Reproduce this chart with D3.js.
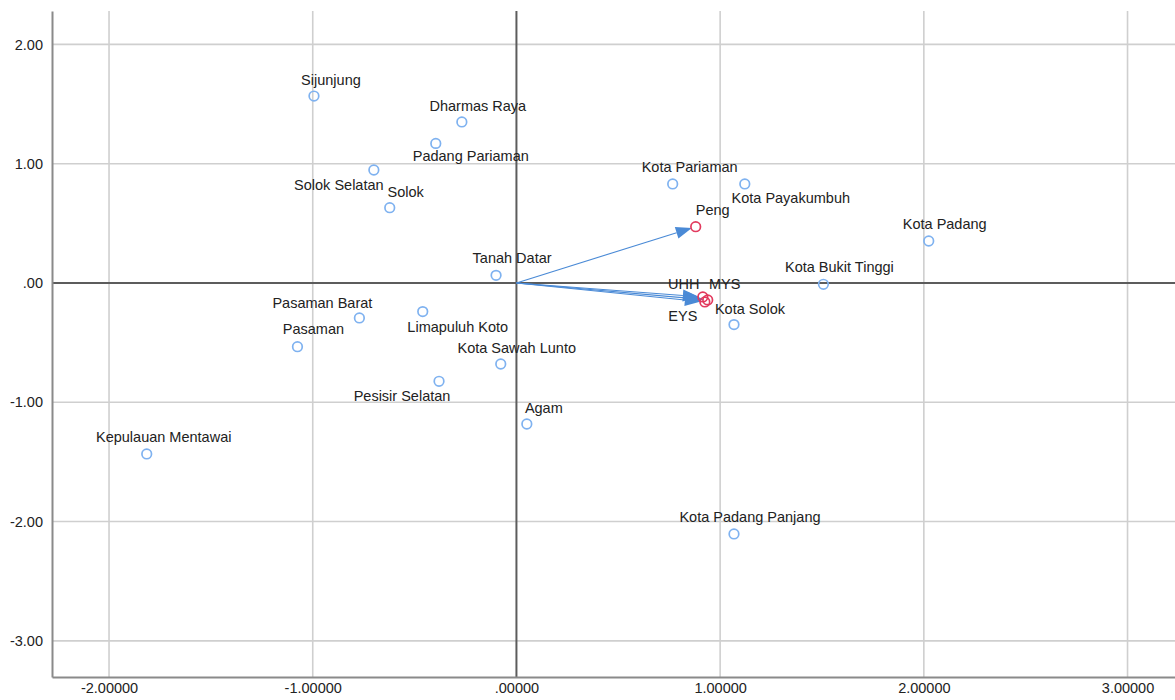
<!DOCTYPE html>
<html>
<head>
<meta charset="utf-8">
<script src="https://cdn.jsdelivr.net/npm/d3@7"></script>
<style>
  html, body { margin: 0; padding: 0; background: #fff; }
  svg { display: block; font-family: "Liberation Sans", Arial, sans-serif; }
</style>
</head>
<body>
<svg id="chart" width="1175" height="700"></svg>
<script>
// ---- data ----
const objectNames = ["Sijunjung", "Dharmas Raya", "Padang Pariaman", "Solok Selatan", "Solok",
  "Tanah Datar", "Pasaman Barat", "Limapuluh Koto", "Pasaman", "Kota Sawah Lunto",
  "Pesisir Selatan", "Agam", "Kepulauan Mentawai", "Kota Padang Panjang", "Kota Solok",
  "Kota Bukit Tinggi", "Kota Padang", "Kota Pariaman", "Kota Payakumbuh"];
const objectX = [-0.994, -0.268, -0.396, -0.700, -0.622,
  -0.100, -0.771, -0.460, -1.075, -0.077,
  -0.380, 0.051, -1.815, 1.068, 1.068,
  1.507, 2.024, 0.767, 1.121];
const objectY = [1.567, 1.350, 1.170, 0.947, 0.631,
  0.064, -0.293, -0.240, -0.534, -0.679,
  -0.824, -1.182, -1.433, -2.104, -0.349,
  -0.011, 0.352, 0.830, 0.830];

const variableNames = ["Peng", "UHH", "MYS", "EYS"];
const variableX = [0.880, 0.915, 0.939, 0.925];
const variableY = [0.472, -0.117, -0.142, -0.159];

const xTicks = [-2, -1, 0, 1, 2, 3];
const yTicks = [2, 1, 0, -1, -2, -3];

// ---- layout (label offsets in px: [dx, dy of baseline]) ----
const objectLabelOffsets = [[17,-11],[16,-11],[35,18],[-35,20],[16,-11],
  [16,-12],[-37,-10],[35,20],[16,-13],[16,-11],
  [-37,20],[17,-11],[17,-12],[16,-12],[16,-11],
  [16,-12],[16,-12],[17,-12],[46,19]];
const variableLabelOffsets = [[17,-12],[-19,-8],[17,-11],[-22,19]];

const plotLeft = 52, plotTop = 11, plotRight = 1175, plotBottom = 677;
const x = d3.scaleLinear().domain([-2.28, 3.233]).range([plotLeft, plotRight]);
const y = d3.scaleLinear().domain([-3.303, 2.28]).range([plotBottom, plotTop]);

const svg = d3.select("#chart");
const gridColor = "#cfcfcf";

// gridlines
svg.append("g").selectAll("line").data(xTicks.filter(d => d !== 0)).join("line")
  .attr("x1", d => x(d)).attr("x2", d => x(d)).attr("y1", plotTop).attr("y2", plotBottom)
  .attr("stroke", gridColor).attr("stroke-width", 1.6);
svg.append("g").selectAll("line").data(yTicks.filter(d => d !== 0)).join("line")
  .attr("y1", d => y(d)).attr("y2", d => y(d)).attr("x1", plotLeft).attr("x2", plotRight)
  .attr("stroke", gridColor).attr("stroke-width", 1.6);

// zero lines
svg.append("line").attr("x1", x(0)).attr("x2", x(0)).attr("y1", plotTop).attr("y2", plotBottom)
  .attr("stroke", "#5c5c5c").attr("stroke-width", 2);
svg.append("line").attr("x1", plotLeft).attr("x2", plotRight).attr("y1", y(0)).attr("y2", y(0))
  .attr("stroke", "#5c5c5c").attr("stroke-width", 2);

// axes
const fmtX = d => d === 0 ? ".00000" : d3.format(".5f")(d).replace("−", "-");
const fmtY = d => d === 0 ? ".00" : d3.format(".2f")(d).replace("−", "-");

const xAxis = svg.append("g").attr("transform", `translate(0,${plotBottom})`)
  .call(d3.axisBottom(x).tickValues(xTicks).tickFormat(fmtX).tickSize(0).tickPadding(6));
const yAxis = svg.append("g").attr("transform", `translate(${plotLeft},0)`)
  .call(d3.axisLeft(y).tickValues(yTicks).tickFormat(fmtY).tickSize(0).tickPadding(9));
[xAxis, yAxis].forEach(g => {
  g.select(".domain").attr("stroke", "#8a8a8a").attr("stroke-width", 2);
  g.selectAll("text").attr("fill", "#222").style("font-size", "14.5px")
    .style("font-family", "'Liberation Sans', Arial, sans-serif");
});

// arrows (biplot vectors)
const arrowColor = "#4a8ad6";
const ox = x(0), oy = y(0);
const arrows = svg.append("g");
variableNames.forEach((n, i) => {
  const tx = x(variableX[i]), ty = y(variableY[i]);
  const dx = tx - ox, dy = ty - oy, len = Math.hypot(dx, dy);
  const ux = dx / len, uy = dy / len;
  const tipX = tx - ux * 4, tipY = ty - uy * 4;
  const headLen = 16, headW = 6;
  const bx = tipX - ux * headLen, by = tipY - uy * headLen;
  arrows.append("line").attr("x1", ox).attr("y1", oy).attr("x2", bx).attr("y2", by)
    .attr("stroke", arrowColor).attr("stroke-width", 1.1);
  arrows.append("path")
    .attr("d", `M${tipX},${tipY} L${bx - uy * headW},${by + ux * headW} L${bx + uy * headW},${by - ux * headW} Z`)
    .attr("fill", arrowColor);
});

// object points
const objects = objectNames.map((n, i) => ({ n, x: objectX[i], y: objectY[i], o: objectLabelOffsets[i] }));
svg.append("g").selectAll("circle").data(objects).join("circle")
  .attr("cx", d => x(d.x)).attr("cy", d => y(d.y)).attr("r", 4.8)
  .attr("fill", "none").attr("stroke", "#7fb2f0").attr("stroke-width", 1.7);
svg.append("g").selectAll("text").data(objects).join("text")
  .attr("x", d => x(d.x) + d.o[0]).attr("y", d => y(d.y) + d.o[1])
  .attr("text-anchor", "middle").attr("fill", "#222").style("font-size", "14.5px")
  .text(d => d.n);

// variable points
const vars = variableNames.map((n, i) => ({ n, x: variableX[i], y: variableY[i], o: variableLabelOffsets[i] }));
svg.append("g").selectAll("circle").data(vars).join("circle")
  .attr("cx", d => x(d.x)).attr("cy", d => y(d.y)).attr("r", 4.8)
  .attr("fill", "none").attr("stroke", "#e23a5e").attr("stroke-width", 1.7);
svg.append("g").selectAll("text").data(vars).join("text")
  .attr("x", d => x(d.x) + d.o[0]).attr("y", d => y(d.y) + d.o[1])
  .attr("text-anchor", "middle").attr("fill", "#222").style("font-size", "14.5px")
  .text(d => d.n);
</script>
</body>
</html>
